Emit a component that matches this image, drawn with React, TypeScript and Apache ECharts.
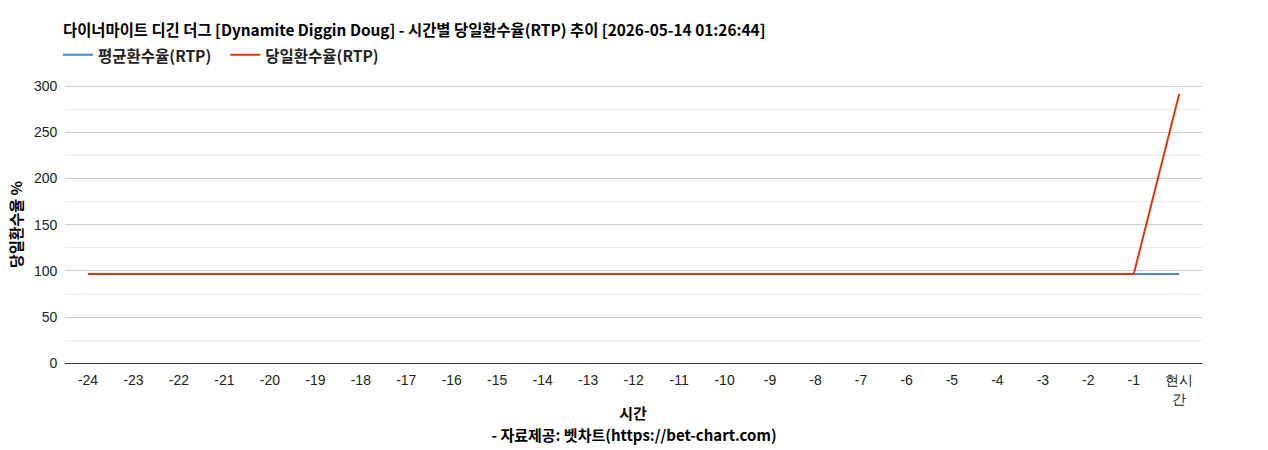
import { useEffect, useRef } from "react";
import * as echarts from "echarts";

const hours = [
  "-24", "-23", "-22", "-21", "-20", "-19", "-18", "-17", "-16", "-15", "-14", "-13",
  "-12", "-11", "-10", "-9", "-8", "-7", "-6", "-5", "-4", "-3", "-2", "-1", "현시간"
];

// 평균환수율(RTP)
const avgRtp = [
  96.5, 96.5, 96.5, 96.5, 96.5, 96.5, 96.5, 96.5, 96.5, 96.5, 96.5, 96.5,
  96.5, 96.5, 96.5, 96.5, 96.5, 96.5, 96.5, 96.5, 96.5, 96.5, 96.5, 96.5, 96.5
];

// 당일환수율(RTP)
const dailyRtp = [
  96.5, 96.5, 96.5, 96.5, 96.5, 96.5, 96.5, 96.5, 96.5, 96.5, 96.5, 96.5,
  96.5, 96.5, 96.5, 96.5, 96.5, 96.5, 96.5, 96.5, 96.5, 96.5, 96.5, 96.5, 291.5
];

const KR = "'Noto Sans CJK KR', 'Liberation Sans', sans-serif";
const SANS = "'Liberation Sans', Arial, sans-serif";

export default function App() {
  const chartRef = useRef<HTMLDivElement>(null);

  useEffect(() => {
    if (!chartRef.current) return;
    const chart = echarts.init(chartRef.current, null, { renderer: "svg" });

    chart.setOption({
      animation: false,
      title: [
        {
          text: "다이너마이트 디긴 더그 [Dynamite Diggin Doug] - 시간별 당일환수율(RTP) 추이 [2026-05-14 01:26:44]",
          left: 63,
          top: 21,
          padding: 0,
          textStyle: { fontFamily: KR, fontSize: 15.4, fontWeight: "bold", color: "#000" }
        },
        {
          text: "시간",
          left: 633,
          textAlign: "center",
          top: 405,
          padding: 0,
          textStyle: { fontFamily: KR, fontSize: 15, fontWeight: "bold", color: "#000" }
        },
        {
          text: "- 자료제공: 벳차트(https://bet-chart.com)",
          left: 634,
          textAlign: "center",
          top: 427,
          padding: 0,
          textStyle: { fontFamily: KR, fontSize: 15, fontWeight: "bold", color: "#000" }
        }
      ],
      legend: {
        left: 63,
        top: 47,
        padding: 0,
        itemWidth: 30,
        itemHeight: 14,
        itemGap: 19,
        icon: "path://M0,6 L30,6 L30,8 L0,8 Z",
        textStyle: { fontFamily: KR, fontSize: 15.5, fontWeight: "bold", color: "#222" },
        data: ["평균환수율(RTP)", "당일환수율(RTP)"]
      },
      grid: { left: 61, right: 66, top: 86, bottom: 87 },
      xAxis: {
        type: "category",
        data: hours,
        boundaryGap: true,
        axisLine: { lineStyle: { color: "#333", width: 1 } },
        axisTick: { show: false },
        axisLabel: {
          fontFamily: SANS,
          fontSize: 14,
          color: "#222",
          margin: 7,
          lineHeight: 19,
          interval: 0,
          formatter: (v: string) => (v.length > 2 && !v.startsWith("-") ? v.slice(0, 2) + "\n" + v.slice(2) : v)
        }
      },
      yAxis: {
        type: "value",
        min: 0,
        max: 300,
        interval: 50,
        name: "당일환수율 %",
        nameLocation: "middle",
        nameGap: 38,
        nameTextStyle: { fontFamily: KR, fontSize: 15, fontWeight: "bold", color: "#000" },
        axisLine: { show: false },
        axisTick: { show: false },
        axisLabel: { fontFamily: SANS, fontSize: 14, color: "#222", margin: 8 },
        splitLine: { lineStyle: { color: "#cccccc", width: 1 } },
        minorTick: { show: false, splitNumber: 2 },
        minorSplitLine: { show: true, lineStyle: { color: "#ebebeb", width: 1 } }
      },
      series: [
        {
          name: "평균환수율(RTP)",
          type: "line",
          data: avgRtp,
          symbol: "none",
          lineStyle: { color: "#4a7fe0", width: 2 },
          itemStyle: { color: "#4a7fe0" }
        },
        {
          name: "당일환수율(RTP)",
          type: "line",
          data: dailyRtp,
          symbol: "none",
          lineStyle: { color: "#dc3912", width: 2 },
          itemStyle: { color: "#dc3912" }
        }
      ]
    });

    return () => {
      chart.dispose();
    };
  }, []);

  return (
    <div
      ref={chartRef}
      style={{ position: "absolute", left: 0, top: 0, width: "1268px", height: "450px", background: "#fff" }}
    />
  );
}
